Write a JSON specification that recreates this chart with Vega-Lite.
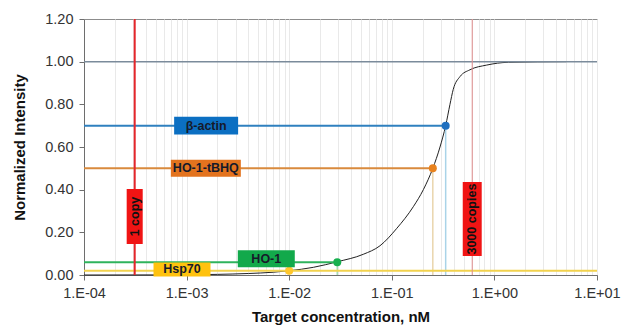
{
  "$schema": "https://vega.github.io/schema/vega-lite/v6.json",
  "width": 513,
  "height": 256,
  "autosize": "none",
  "padding": {"left": 84, "top": 19, "right": 25, "bottom": 53},
  "background": "white",
  "config": {
    "view": {"stroke": "#8c8c8c", "strokeWidth": 1},
    "font": "Liberation Sans",
    "axis": {
      "labelFont": "Liberation Sans",
      "titleFont": "Liberation Sans",
      "labelFontSize": 14.5,
      "labelColor": "#333333",
      "titleFontSize": 15,
      "titleFontWeight": "bold",
      "titleColor": "#111111",
      "domainColor": "#6e6e6e",
      "tickColor": "#6e6e6e",
      "tickSize": 5,
      "labelFlush": false,
      "labelOverlap": false
    }
  },
  "resolve": {"scale": {"color": "independent"}},
  "datasets": {
    "curve": [
      {"conc": 0.0001, "intensity": 0},
      {"conc": 0.0005, "intensity": 0.0005},
      {"conc": 0.001, "intensity": 0.001},
      {"conc": 0.002, "intensity": 0.003},
      {"conc": 0.004, "intensity": 0.007},
      {"conc": 0.007, "intensity": 0.013},
      {"conc": 0.01, "intensity": 0.02},
      {"conc": 0.0172, "intensity": 0.036},
      {"conc": 0.0294, "intensity": 0.062},
      {"conc": 0.0527, "intensity": 0.097},
      {"conc": 0.0767, "intensity": 0.137},
      {"conc": 0.112, "intensity": 0.219},
      {"conc": 0.162, "intensity": 0.32},
      {"conc": 0.203, "intensity": 0.4},
      {"conc": 0.251, "intensity": 0.5},
      {"conc": 0.295, "intensity": 0.6},
      {"conc": 0.335, "intensity": 0.7},
      {"conc": 0.369, "intensity": 0.8},
      {"conc": 0.397, "intensity": 0.87},
      {"conc": 0.462, "intensity": 0.93},
      {"conc": 0.578, "intensity": 0.962},
      {"conc": 0.841, "intensity": 0.984},
      {"conc": 1.37, "intensity": 0.997},
      {"conc": 5, "intensity": 1.0}
    ],
    "genes": [
      {"gene": "β-actin", "conc": 0.335, "intensity": 0.70, "base": 0, "lineFrom": 0.0001, "lineTo": 0.335},
      {"gene": "HO-1-tBHQ", "conc": 0.251, "intensity": 0.50, "base": 0, "lineFrom": 0.0001, "lineTo": 0.251},
      {"gene": "HO-1", "conc": 0.0294, "intensity": 0.06, "base": 0, "lineFrom": 0.0001, "lineTo": 0.0294},
      {"gene": "Hsp70", "conc": 0.01, "intensity": 0.02, "base": 0, "lineFrom": 0.0001, "lineTo": 10}
    ],
    "copies": [
      {"label": "1 copy", "conc": 0.000312},
      {"label": "3000 copies", "conc": 0.608}
    ],
    "labels": [
      {"label": "β-actin", "kind": "gene", "conc": 0.00155, "intensity": 0.70},
      {"label": "HO-1-tBHQ", "kind": "gene", "conc": 0.00154, "intensity": 0.50},
      {"label": "HO-1", "kind": "gene", "conc": 0.00598, "intensity": 0.076},
      {"label": "Hsp70", "kind": "gene", "conc": 0.000902, "intensity": 0.026},
      {"label": "1 copy", "kind": "copies", "conc": 0.000312, "intensity": 0.274},
      {"label": "3000 copies", "kind": "copies", "conc": 0.608, "intensity": 0.262}
    ],
    "plateau": [{"intensity": 1.0}]
  },
  "layer": [
    {
      "data": {"name": "curve"},
      "mark": {"type": "line", "color": "#222222", "strokeWidth": 1, "interpolate": "monotone"},
      "encoding": {
        "x": {
          "field": "conc", "type": "quantitative",
          "scale": {"type": "log", "domain": [0.0001, 10], "nice": false},
          "title": "Target concentration, nM",
          "axis": {
            "values": [0.0001, 0.0002, 0.0003, 0.0004, 0.0005, 0.0006, 0.0007, 0.0008, 0.0009,
                       0.001, 0.002, 0.003, 0.004, 0.005, 0.006, 0.007, 0.008, 0.009,
                       0.01, 0.02, 0.03, 0.04, 0.05, 0.06, 0.07, 0.08, 0.09,
                       0.1, 0.2, 0.3, 0.4, 0.5, 0.6, 0.7, 0.8, 0.9,
                       1, 2, 3, 4, 5, 6, 7, 8, 9, 10],
            "labelExpr": "abs(log(datum.value)/LN10 - round(log(datum.value)/LN10)) < 0.001 ? '1.E' + (round(log(datum.value)/LN10) < 0 ? '-0' : '+0') + abs(round(log(datum.value)/LN10)) : ''",
            "tickOpacity": {"condition": {"test": "abs(log(datum.value)/LN10 - round(log(datum.value)/LN10)) < 0.001", "value": 1}, "value": 0},
            "grid": true,
            "gridColor": "#e9e9e9",
            "gridWidth": 1,
            "labelPadding": 6,
            "titlePadding": 10
          }
        },
        "y": {
          "field": "intensity", "type": "quantitative",
          "scale": {"domain": [0, 1.2], "nice": false, "zero": false},
          "title": "Normalized Intensity",
          "axis": {
            "values": [0, 0.2, 0.4, 0.6, 0.8, 1.0, 1.2],
            "format": ".2f",
            "grid": false,
            "labelPadding": 6,
            "titlePadding": 17
          }
        }
      }
    },
    {
      "data": {"name": "plateau"},
      "mark": {"type": "rule", "color": "#7b8b9b", "strokeWidth": 1.5},
      "encoding": {
        "y": {"field": "intensity", "type": "quantitative", "title": "Normalized Intensity"}
      }
    },
    {
      "data": {"name": "genes"},
      "mark": {"type": "rule", "strokeWidth": 1.5},
      "encoding": {
        "x": {"field": "conc", "type": "quantitative", "title": "Target concentration, nM"},
        "y": {"field": "base", "type": "quantitative", "title": "Normalized Intensity"},
        "y2": {"field": "intensity"},
        "color": {
          "field": "gene", "type": "nominal", "legend": null,
          "scale": {"domain": ["β-actin", "HO-1-tBHQ", "HO-1", "Hsp70"], "range": ["#a9d3e8", "#e9d5ad", "#a6dcb6", "#e3dfc6"]}
        }
      }
    },
    {
      "data": {"name": "genes"},
      "mark": {"type": "rule", "strokeWidth": 2},
      "encoding": {
        "x": {"field": "lineFrom", "type": "quantitative", "title": "Target concentration, nM"},
        "x2": {"field": "lineTo"},
        "y": {"field": "intensity", "type": "quantitative", "title": "Normalized Intensity"},
        "color": {
          "field": "gene", "type": "nominal", "legend": null,
          "scale": {"domain": ["β-actin", "HO-1-tBHQ", "HO-1", "Hsp70"], "range": ["#2f80bf", "#d98a3d", "#2fb35c", "#f2d24e"]}
        }
      }
    },
    {
      "data": {"name": "copies"},
      "transform": [{"filter": "datum.label == '1 copy'"}],
      "mark": {"type": "rule", "color": "#e4262b", "strokeWidth": 2},
      "encoding": {
        "x": {"field": "conc", "type": "quantitative", "title": "Target concentration, nM"}
      }
    },
    {
      "data": {"name": "copies"},
      "transform": [{"filter": "datum.label == '3000 copies'"}],
      "mark": {"type": "rule", "color": "#e08c8c", "strokeWidth": 1},
      "encoding": {
        "x": {"field": "conc", "type": "quantitative", "title": "Target concentration, nM"}
      }
    },
    {
      "data": {"name": "genes"},
      "mark": {"type": "point", "filled": true, "opacity": 1, "size": 64, "shape": "circle"},
      "encoding": {
        "x": {"field": "conc", "type": "quantitative", "title": "Target concentration, nM"},
        "y": {"field": "intensity", "type": "quantitative", "title": "Normalized Intensity"},
        "color": {
          "field": "gene", "type": "nominal", "legend": null,
          "scale": {"domain": ["β-actin", "HO-1-tBHQ", "HO-1", "Hsp70"], "range": ["#1f6fbf", "#e8821e", "#18b04f", "#ffc72c"]}
        }
      }
    },
    {
      "data": {"name": "labels"},
      "mark": {"type": "point", "filled": true, "opacity": 1, "size": 4900, "strokeWidth": 0},
      "encoding": {
        "x": {"field": "conc", "type": "quantitative", "title": "Target concentration, nM"},
        "y": {"field": "intensity", "type": "quantitative", "title": "Normalized Intensity"},
        "shape": {
          "field": "label", "type": "nominal", "legend": null,
          "scale": {
            "domain": ["β-actin", "HO-1-tBHQ", "HO-1", "Hsp70", "1 copy", "3000 copies"],
            "range": [
              "M-0.914,-0.253H0.914V0.253H-0.914Z",
              "M-1,-0.243H1V0.243H-1Z",
              "M-0.814,-0.243H0.814V0.243H-0.814Z",
              "M-0.814,-0.2H0.814V0.2H-0.814Z",
              "M-0.229,-0.786H0.229V0.786H-0.229Z",
              "M-0.271,-1.057H0.271V1.057H-0.271Z"
            ]
          }
        },
        "color": {
          "field": "label", "type": "nominal", "legend": null,
          "scale": {
            "domain": ["β-actin", "HO-1-tBHQ", "HO-1", "Hsp70", "1 copy", "3000 copies"],
            "range": ["#0b6fc2", "#e3731e", "#12a94b", "#ffc20e", "#f01414", "#f01414"]
          }
        }
      }
    },
    {
      "data": {"name": "labels"},
      "transform": [{"filter": "datum.kind == 'gene'"}],
      "mark": {"type": "text", "font": "Liberation Sans", "fontSize": 12.5, "fontWeight": "bold", "color": "#161a2a", "align": "center", "baseline": "middle"},
      "encoding": {
        "x": {"field": "conc", "type": "quantitative", "title": "Target concentration, nM"},
        "y": {"field": "intensity", "type": "quantitative", "title": "Normalized Intensity"},
        "text": {"field": "label"}
      }
    },
    {
      "data": {"name": "labels"},
      "transform": [{"filter": "datum.kind == 'copies'"}],
      "mark": {"type": "text", "font": "Liberation Sans", "fontSize": 12.5, "fontWeight": "bold", "color": "#111111", "align": "center", "baseline": "middle", "angle": 270},
      "encoding": {
        "x": {"field": "conc", "type": "quantitative", "title": "Target concentration, nM"},
        "y": {"field": "intensity", "type": "quantitative", "title": "Normalized Intensity"},
        "text": {"field": "label"}
      }
    }
  ]
}
